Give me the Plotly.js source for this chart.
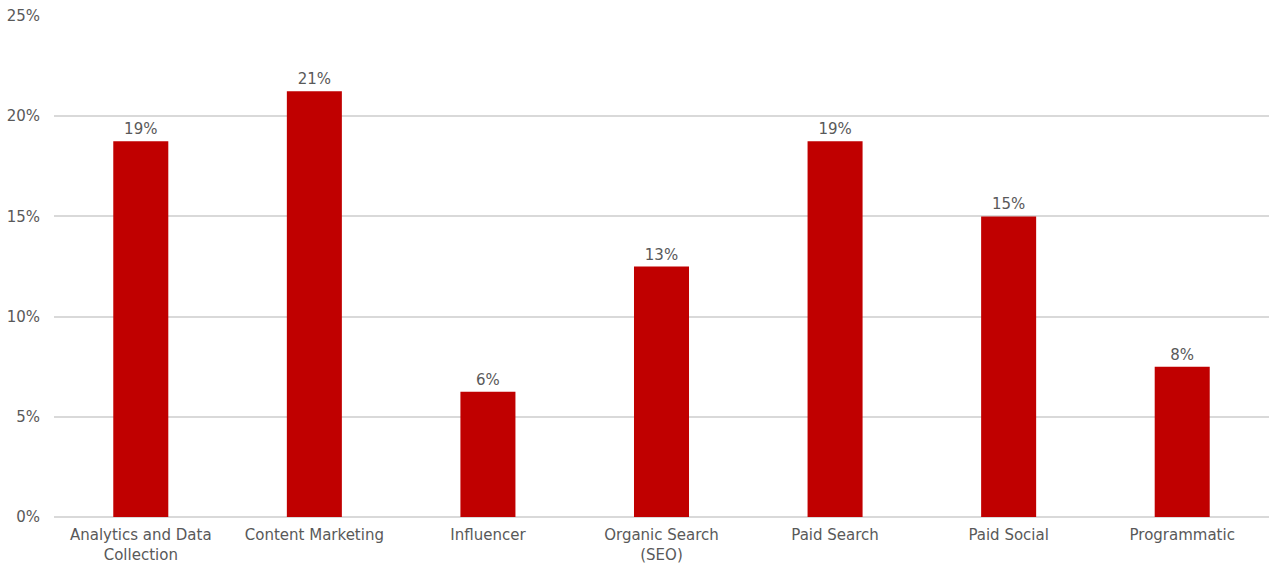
<!DOCTYPE html>
<html>
<head>
<meta charset="utf-8">
<script src="https://cdn.plot.ly/plotly-3.0.1.min.js"></script>
<style>html,body{margin:0;padding:0;background:#fff;}#chart{width:1271px;height:564px;}</style>
</head>
<body>
<div id="chart"></div>
<script>
const categories = ["Analytics and Data<br>Collection", "Content Marketing", "Influencer", "Organic Search<br>(SEO)", "Paid Search", "Paid Social", "Programmatic"];
const values = [18.75, 21.25, 6.25, 12.5, 18.75, 15, 7.5];
const yTicks = [0, 5, 10, 15, 20, 25];
const yTickText = yTicks.map(v => v + '%');

const FONT = '"DejaVu Sans", "Open Sans", sans-serif';

const trace = {
  type: 'bar',
  x: categories,
  y: values,
  marker: {color: '#c00000'},
  texttemplate: '%{y:.0f}%',
  textposition: 'outside',
  cliponaxis: false,
  textfont: {family: FONT, size: 15, color: '#595959'},
  hoverinfo: 'none'
};

const layout = {
  width: 1271, height: 564,
  margin: {l: 54, r: 2, t: 16, b: 47},
  paper_bgcolor: '#fff', plot_bgcolor: '#fff',
  bargap: 0.683,
  showlegend: false,
  font: {family: FONT, size: 15, color: '#595959'},
  xaxis: {
    type: 'category',
    showgrid: false, showline: false, zeroline: false,
    ticks: '', tickfont: {family: FONT, size: 15, color: '#595959'},
    ticklabelstandoff: 7,
    automargin: false
  },
  yaxis: {
    range: [0, 25],
    tickmode: 'array',
    tickvals: yTicks,
    ticktext: yTickText,
    showgrid: true, gridcolor: '#d9d9d9', gridwidth: 2,
    zeroline: true, zerolinecolor: '#d9d9d9', zerolinewidth: 2,
    showline: false, ticks: '', ticklabelstandoff: 13,
    tickfont: {family: FONT, size: 15, color: '#595959'},
    automargin: false
  }
};

Plotly.newPlot('chart', [trace], layout, {staticPlot: true});
</script>
</body>
</html>
